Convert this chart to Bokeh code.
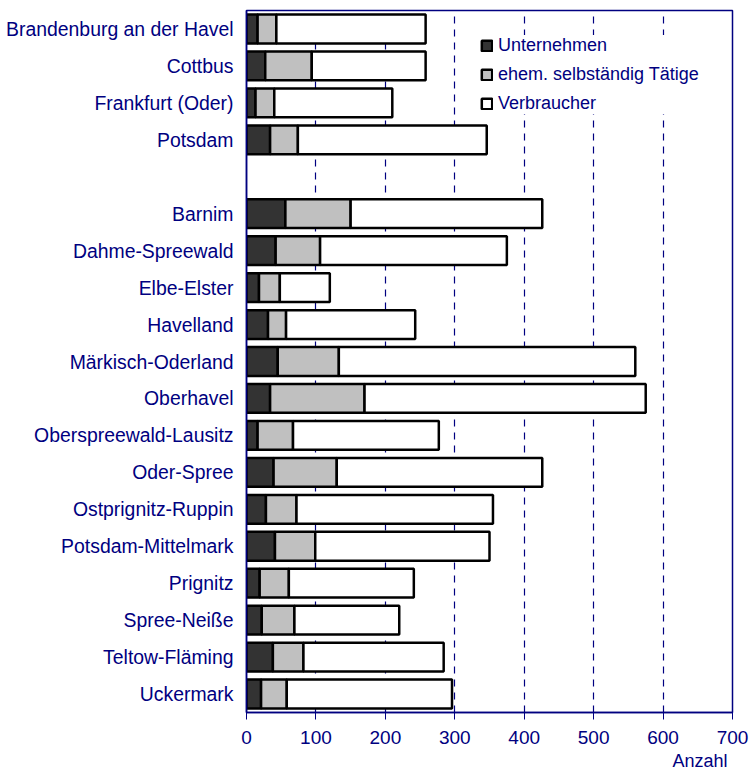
from bokeh.plotting import figure
from bokeh.models import ColumnDataSource, FactorRange, FixedTicker, Range1d, Title
from bokeh.embed import file_html
from bokeh.resources import INLINE

# categories top to bottom (" " is the empty gap row)
categories = ["Brandenburg an der Havel", "Cottbus", "Frankfurt (Oder)", "Potsdam", " ",
              "Barnim", "Dahme-Spreewald", "Elbe-Elster", "Havelland", "Märkisch-Oderland",
              "Oberhavel", "Oberspreewald-Lausitz", "Oder-Spree", "Ostprignitz-Ruppin",
              "Potsdam-Mittelmark", "Prignitz", "Spree-Neiße", "Teltow-Fläming", "Uckermark"]

bar_names = ["Brandenburg an der Havel", "Cottbus", "Frankfurt (Oder)", "Potsdam",
             "Barnim", "Dahme-Spreewald", "Elbe-Elster", "Havelland", "Märkisch-Oderland",
             "Oberhavel", "Oberspreewald-Lausitz", "Oder-Spree", "Ostprignitz-Ruppin",
             "Potsdam-Mittelmark", "Prignitz", "Spree-Neiße", "Teltow-Fläming", "Uckermark"]
unternehmen = [16, 27, 13, 34, 56, 42, 18, 31, 45, 34, 16, 39, 28, 41, 19, 22, 38, 21]
ehem_selbst = [27, 67, 27, 40, 94, 64, 30, 26, 88, 136, 51, 91, 44, 58, 42, 47, 44, 37]
verbraucher = [215, 164, 170, 272, 276, 269, 72, 186, 427, 405, 210, 296, 283, 251, 180, 151, 202, 238]

series_labels = ["Unternehmen", "ehem. selbständig Tätige", "Verbraucher"]
x_ticks = [0, 100, 200, 300, 400, 500, 600, 700]
grid_ticks = [100, 200, 300, 400, 500, 600]
x_title = "Anzahl"

NAVY = "#000080"
FONT = "Liberation Sans"

source = ColumnDataSource(data=dict(cat=bar_names, u=unternehmen, e=ehem_selbst, v=verbraucher))

p = figure(width=751, height=775, output_backend="svg", toolbar_location=None,
           y_range=FactorRange(*list(reversed(categories)), range_padding=0),
           x_range=Range1d(0, 700),
           min_border_left=246, min_border_right=19, min_border_top=10, min_border_bottom=63)

p.hbar_stack(["u", "e", "v"], y="cat", height=0.78, source=source,
             fill_color=["#333333", "#c0c0c0", "#ffffff"], line_color="black", line_width=2.5,
             legend_label=series_labels)

p.outline_line_color = NAVY
p.outline_line_width = 1.5
p.background_fill_color = "white"
p.border_fill_color = "white"

p.ygrid.grid_line_color = None
p.xgrid.ticker = FixedTicker(ticks=grid_ticks)
p.xgrid.grid_line_color = NAVY
p.xgrid.grid_line_dash = "7 6"
p.xgrid.grid_line_width = 1.2

xa = p.xaxis[0]
xa.ticker = FixedTicker(ticks=x_ticks)
xa.axis_line_color = NAVY
xa.axis_line_width = 1.5
xa.major_tick_line_color = NAVY
xa.major_tick_out = 7
xa.major_tick_in = 0
xa.minor_tick_line_color = None
xa.major_label_text_color = NAVY
xa.major_label_text_font = FONT
xa.major_label_text_font_size = "19px"
xa.major_label_standoff = 11

ya = p.yaxis[0]
ya.axis_line_color = NAVY
ya.axis_line_width = 1.5
ya.major_tick_line_color = None
ya.major_tick_out = 0
ya.major_tick_in = 0
ya.minor_tick_line_color = None
ya.major_label_text_color = NAVY
ya.major_label_text_font = FONT
ya.major_label_text_font_size = "19.4px"
ya.major_label_standoff = 13

p.add_layout(Title(text=x_title, align="right", text_color=NAVY, text_font=FONT,
                   text_font_size="18px", text_font_style="normal", offset=5,
                   standoff=4), "below")

lg = p.legend[0]
lg.location = (234, 598)
lg.border_line_color = None
lg.background_fill_color = "white"
lg.background_fill_alpha = 1.0
lg.padding = 6
lg.margin = 0
lg.spacing = 8
lg.glyph_width = 13
lg.glyph_height = 13
lg.label_height = 21
lg.label_standoff = 5
lg.label_text_color = NAVY
lg.label_text_font = FONT
lg.label_text_font_size = "18px"

open("out.html", "w").write(file_html(p, INLINE))
